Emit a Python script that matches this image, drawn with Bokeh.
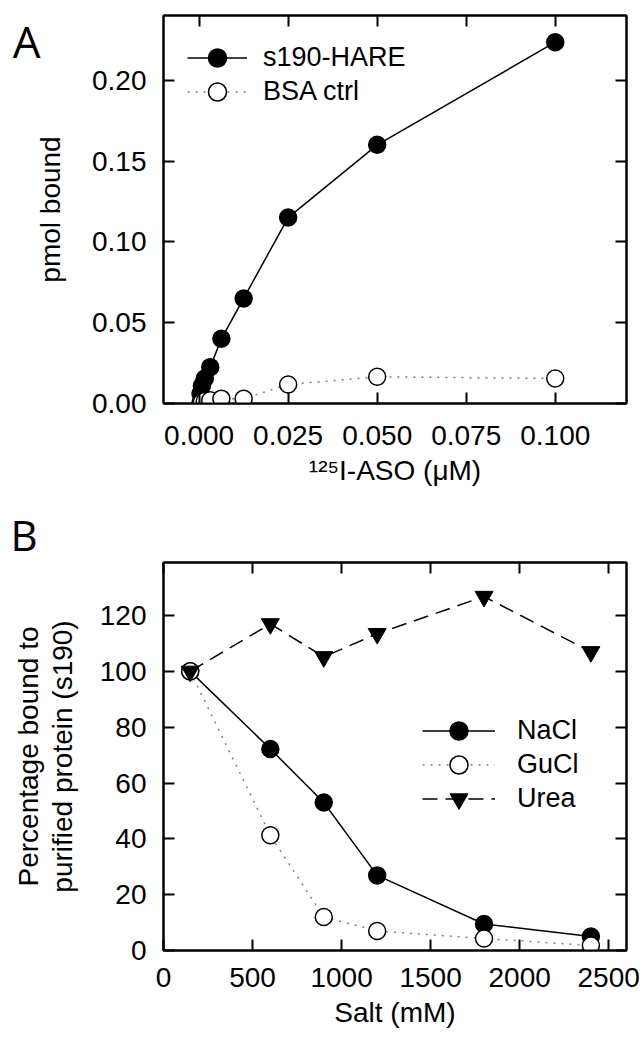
from bokeh.plotting import figure
from bokeh.models import (LinearAxis, FixedTicker, PrintfTickFormatter, Range1d,
                          Legend, LegendItem, Title, CustomJSTickFormatter)
from bokeh.layouts import column
from bokeh.embed import file_html
from bokeh.resources import INLINE

# ---------------- Panel A data ----------------
aso_conc = [0.00039, 0.00078, 0.0016, 0.003125, 0.00625, 0.0125, 0.025, 0.05, 0.1]
s190_hare = [0.006, 0.011, 0.0155, 0.0225, 0.040, 0.065, 0.115, 0.160, 0.2235]
bsa_ctrl = [0.0005, 0.001, 0.0015, 0.002, 0.003, 0.003, 0.0118, 0.0165, 0.0155]
a_xticks = [0.0, 0.025, 0.05, 0.075, 0.1]
a_yticks = [0.0, 0.05, 0.10, 0.15, 0.20]

# ---------------- Panel B data ----------------
salt_mM = [150, 600, 900, 1200, 1800, 2400]
nacl = [100, 72.2, 53.0, 26.9, 9.5, 5.0]
gucl = [100, 41.3, 12.0, 7.0, 4.3, 1.8]
urea = [100, 117, 105.2, 113.5, 126.8, 107]
b_xticks = [0, 500, 1000, 1500, 2000, 2500]
b_yticks = [0, 20, 40, 60, 80, 100, 120]

FONT = "Liberation Sans"
LETTER_FONT = "Open Sans"
TICK_FS = "28px"
DOT_COLOR = "#808080"
FW, FH = 463, 388


def style_axis(ax):
    ax.major_tick_in = 11
    ax.major_tick_out = 0
    ax.minor_tick_line_color = None
    ax.axis_line_width = 2
    ax.major_tick_line_width = 2
    ax.major_label_text_font = FONT
    ax.major_label_text_font_size = TICK_FS
    ax.major_label_text_color = "black"
    ax.axis_label_text_font = FONT
    ax.axis_label_text_font_size = TICK_FS
    ax.axis_label_text_font_style = "normal"
    ax.axis_label_text_color = "black"


def base_fig(xr, yr, xticks, yticks, xfmt, yfmt, top, bottom):
    p = figure(frame_width=FW, frame_height=FH,
               x_range=Range1d(*xr), y_range=Range1d(*yr),
               output_backend="svg", toolbar_location=None,
               min_border_left=163, min_border_right=18,
               min_border_top=top, min_border_bottom=bottom)
    p.xgrid.visible = False
    p.ygrid.visible = False
    p.outline_line_color = "black"
    p.outline_line_width = 2
    p.outline_line_alpha = 1
    xax = p.below[0]
    yax = p.left[0]
    for ax, ticks, fmt in ((xax, xticks, xfmt), (yax, yticks, yfmt)):
        ax.ticker = FixedTicker(ticks=ticks)
        ax.formatter = PrintfTickFormatter(format=fmt)
        style_axis(ax)
    yax.major_label_standoff = 17
    # mirrored inside ticks on top and right (no labels)
    for loc, ticks in (("above", xticks), ("right", yticks)):
        ax = LinearAxis(ticker=FixedTicker(ticks=ticks),
                        formatter=CustomJSTickFormatter(code="return ''"))
        style_axis(ax)
        ax.major_label_text_font_size = "1px"
        ax.major_label_standoff = 0
        p.add_layout(ax, loc)
    return p, xax, yax


def bare_left_axis(p, ticks=None, label=None):
    ax = LinearAxis(ticker=FixedTicker(ticks=ticks or []))
    style_axis(ax)
    ax.axis_line_color = None
    ax.major_tick_line_color = None
    ax.major_tick_in = 0
    ax.major_label_standoff = 0
    if label:
        ax.axis_label = label
    p.add_layout(ax, "left")
    return ax


def add_legend(p, label, renderers, x, y_bottom, gw, standoff):
    leg = Legend(items=[LegendItem(label=label, renderers=renderers)],
                 location=(x, y_bottom), padding=0, margin=0, spacing=0,
                 glyph_width=gw, glyph_height=45, label_height=34,
                 label_standoff=standoff,
                 label_text_font=FONT, label_text_font_size="27px",
                 label_text_color="black",
                 background_fill_alpha=0, border_line_alpha=0)
    p.add_layout(leg)


# ================= Panel A =================
pa, pa_x, pa_y = base_fig((-0.01, 0.12), (0, 0.24), a_xticks, a_yticks,
                          "%.3f", "%.2f", 15, 97)
pa_x.major_label_standoff = 22
pa_x.axis_label = "\u00b9\u00b2\u2075I-ASO (\u03bcM)"
pa_x.axis_label_standoff = 7
pa_y.axis_label = "pmol bound"
pa_y.axis_label_standoff = 23

l1 = pa.line(aso_conc, s190_hare, line_color="black", line_width=1.5)
m1 = pa.scatter(aso_conc, s190_hare, marker="circle", size=17,
                fill_color="black", line_color="black", line_width=1.5)
l2 = pa.line(aso_conc, bsa_ctrl, line_color=DOT_COLOR, line_width=1.5, line_dash="2 6")
m2 = pa.scatter(aso_conc, bsa_ctrl, marker="circle", size=17,
                fill_color="white", line_color="black", line_width=1.5)

add_legend(pa, "s190-HARE", [l1, m1], 24, 323, 60, 16)
add_legend(pa, "BSA ctrl", [l2, m2], 24, 289, 60, 16)

# panel letter "A": single tick label of an extra, bare left axis
letter_a = bare_left_axis(pa, ticks=[0.2245])
letter_a.formatter = CustomJSTickFormatter(code="return 'A'")
letter_a.major_label_text_font = LETTER_FONT
letter_a.major_label_text_font_size = "44px"
letter_a.major_label_standoff = -8

# ================= Panel B =================
pb, pb_x, pb_y = base_fig((0, 2600), (0, 139), b_xticks, b_yticks,
                          "%d", "%d", 62, 87)
pb_x.major_label_standoff = 17
pb_x.axis_label = "Salt (mM)"
pb_x.axis_label_standoff = 7
pb_y.axis_label = "purified protein (s190)"
pb_y.axis_label_standoff = 19
outer = bare_left_axis(pb, label="Percentage bound to")
outer.axis_label_standoff = 0

n_l = pb.line(salt_mM, nacl, line_color="black", line_width=1.5)
n_m = pb.scatter(salt_mM, nacl, marker="circle", size=17,
                 fill_color="black", line_color="black", line_width=1.5)
g_l = pb.line(salt_mM, gucl, line_color=DOT_COLOR, line_width=1.5, line_dash="2 6")
g_m = pb.scatter(salt_mM, gucl, marker="circle", size=17,
                 fill_color="white", line_color="black", line_width=1.5)
u_l = pb.line(salt_mM, urea, line_color="black", line_width=1.5, line_dash="15 8")
u_m = pb.scatter(salt_mM, urea, marker="inverted_triangle", size=18,
                 fill_color="black", line_color="black", line_width=1)

add_legend(pb, "NaCl", [n_l, n_m], 259, 197, 73, 22)
add_legend(pb, "GuCl", [g_l, g_m], 259, 163, 73, 22)
add_legend(pb, "Urea", [u_l, u_m], 259, 129, 73, 22)

pb.add_layout(Title(text="B", align="left", offset=-153, standoff=0,
                    vertical_align="bottom", text_font=LETTER_FONT,
                    text_font_size="42px", text_font_style="normal",
                    text_color="black"), "above")

layout = column(pa, pb, spacing=0)
open("out.html", "w").write(file_html(layout, INLINE))
